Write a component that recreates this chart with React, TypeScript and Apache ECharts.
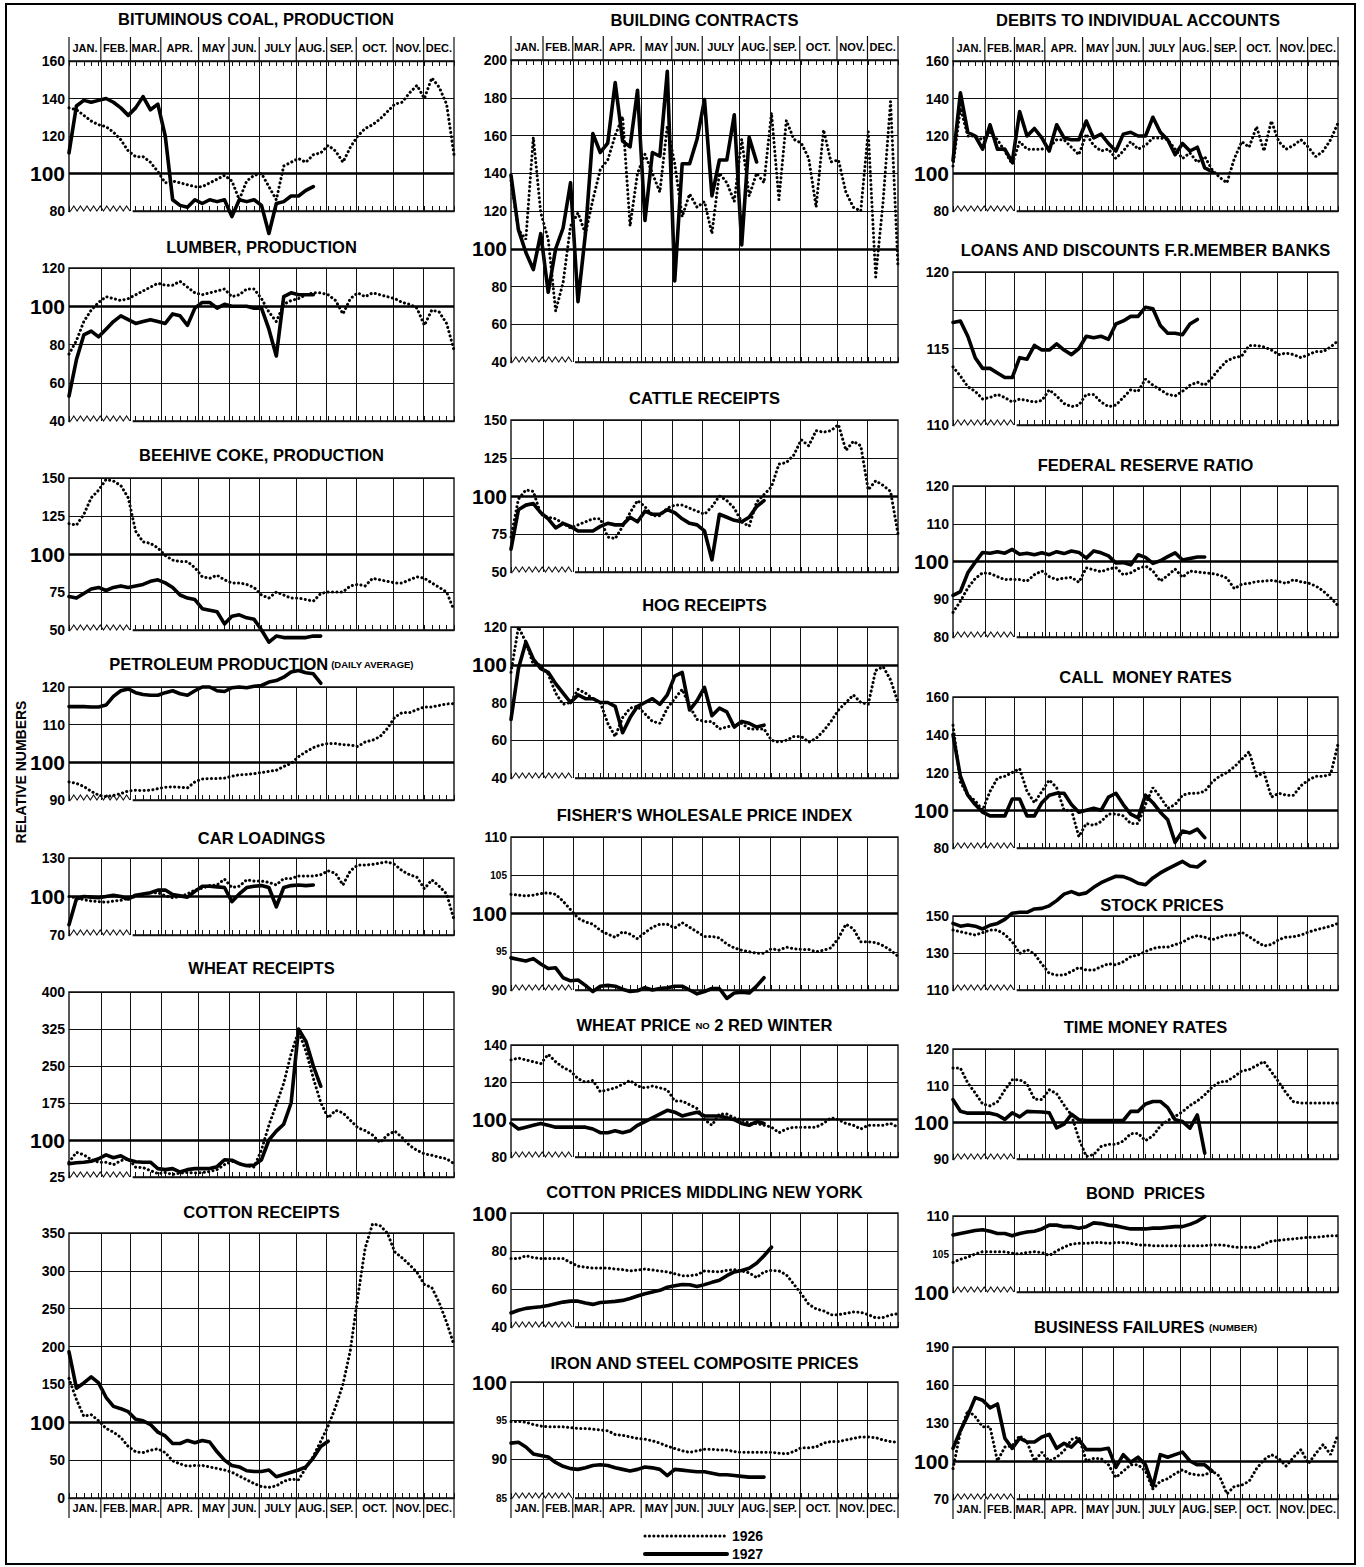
import React, { useEffect, useRef } from 'react';
import * as echarts from 'echarts';

const MONTHS = ['JAN.', 'FEB.', 'MAR.', 'APR.', 'MAY', 'JUN.', 'JULY', 'AUG.', 'SEP.', 'OCT.', 'NOV.', 'DEC.'];
const MONTH_EDGES = [0, 4.3, 8.3, 12.4, 17.5, 21.6, 25.7, 30.7, 34.8, 38.8, 43.8, 47.9, 52];
const WEEKS = 52;
const LEGEND_LABELS = ['1926', '1927'];

const COAL_1926 = [135,134,131,128,126,125,122,118,112,109,109,106,101,95,96,95,94,93,93,95,97,99,96,86,96,99,100,93,86,104,106,108,106,110,111,115,112,106,114,120,124,126,129,133,137,138,143,147,140,151,146,137,110];
const COAL_1927 = [111,136,139,138,139,140,138,135,131,135,141,134,137,120,86,83,82,86,84,86,85,86,77,86,85,86,83,68,84,85,88,88,91,93];
const LUMBER_1926 = [75,82,92,98,102,105,104,103,104,106,108,110,112,111,111,113,110,107,106,107,108,109,105,106,109,109,104,97,92,101,103,104,106,107,107,106,103,96,104,107,105,107,106,105,104,102,101,99,90,98,97,91,77];
const LUMBER_1927 = [53,72,85,87,84,88,92,95,93,91,92,93,92,91,96,95,90,99,102,102,99,101,100,100,100,99,99,88,74,105,107,106,106,106];
const COKE_1926 = [120,119,126,137,142,149,148,145,137,115,108,107,104,99,96,95,95,91,85,84,86,83,81,81,80,78,73,71,75,73,71,71,70,69,74,75,75,75,79,80,79,84,83,82,81,81,83,85,84,81,78,75,63];
const COKE_1927 = [72,71,74,77,78,76,78,79,78,79,80,82,83,81,78,73,71,70,64,63,62,54,59,60,58,57,50,42,46,45,45,45,45,46,46];
const PETROL_1926 = [94.8,94.4,93.6,92.3,91.3,90.9,91.2,91.7,92.4,92.6,92.5,92.6,93.0,93.4,93.5,93.4,93.2,94.8,95.6,95.7,95.7,95.8,96.3,96.7,96.8,97.0,97.3,97.6,97.9,98.9,99.7,101.5,102.8,103.9,104.6,105.0,105.0,104.7,104.6,104.2,105.4,105.9,106.8,109.0,112.0,113.2,113.2,114.0,114.7,114.7,115.1,115.5,115.6];
const PETROL_1927 = [114.8,114.8,114.8,114.7,114.7,115.2,117.5,119,119.5,118.5,118,117.8,117.8,118.5,119,118.2,117.8,119,120,120,119,118.8,119.8,120,119.8,120.2,120.4,121.3,121.7,122.6,124,124.4,123.8,123.5,121];
const CARS_1926 = [100,99,97.5,96.5,96,95.5,96.5,97,98.5,100,101.5,103,103,100.5,99,100,102,105,106.5,108.5,109,113.5,107,108,113,112,112,111,109,114,114,116,116,116,117,120,118,109,120,124.5,124.5,125,126,127,125,120,117,115,106,113,108,102,82];
const CARS_1927 = [78,98,100,99.5,99,100,101,100,98,101,102,103,105,105,101.5,100.5,99.5,104,108,108,107.5,107,96,102,107,108,108.5,107,92,107,108.5,109,108.5,109];
const WHEATR_1926 = [55,75,70,60,55,55,50,58,62,45,44,38,32,34,30,33,34,33,34,36,40,50,57,52,48,45,80,130,172,215,275,320,280,225,176,145,160,155,140,125,119,110,95,110,118,105,89,79,72,69,65,62,52];
const WHEATR_1927 = [52,54,55,57,62,70,64,68,60,56,55,55,42,40,42,35,40,42,42,42,46,60,59,52,48,49,60,100,118,132,175,325,300,250,209];
const COTTONR_1926 = [158,130,108,110,102,92,87,80,68,61,60,63,65,60,49,45,42,43,43,41,39,37,34,29,24,19,15,14,16,22,25,24,40,55,75,95,120,150,195,265,330,362,360,350,325,317,308,298,282,278,258,232,202];
const COTTONR_1927 = [193,145,152,160,152,133,121,118,114,104,102,97,87,82,72,72,76,73,76,74,61,50,43,41,36,35,35,37,28,31,34,37,41,53,68,75];

const BUILD_1926 = [136,110,105,159,119,105,67,82,112,119,108,126,142,147,160,170,112,140,150,140,130,165,145,117,129,122,125,108,140,135,125,158,128,140,135,172,126,168,158,156,148,122,163,146,147,130,122,120,162,85,125,178,90];
const BUILD_1927 = [139,110,98,89,108,77,100,111,135,72,108,161,151,156,188,157,154,184,115,151,149,194,83,145,145,158,179,128,147,147,171,102,159,146];
const CATTLE_1926 = [73,98,104,103,88,86,85,82,79,81,83,85,85,73,72,80,89,97,93,87,87,92,94,94,92,90,88,93,100,97,92,83,80,96,101,106,121,122,127,137,133,143,142,143,147,130,136,133,104,110,107,103,75];
const CATTLE_1927 = [65,91,94,95,89,85,79,82,80,77,77,77,80,82,81,81,86,83,90,88,88,91,89,85,82,81,77,58,88,86,84,83,86,93,97];
const HOG_1926 = [96,120,112,100,100,95,85,79,80,87,85,82,80,69,62,72,77,78,74,70,69,77,82,87,78,71,70,70,66,67,68,69,66,66,66,60,59,60,62,62,59,61,65,70,76,80,84,80,79,97,99,92,80];
const HOG_1927 = [71,98,112,103,98,96,90,85,80,84,82,82,80,80,78,64,72,78,80,82,79,84,94,96,76,81,88,73,77,75,67,70,69,67,68];
const FISHER_1926 = [102.5,102.4,102.3,102.4,102.6,102.7,102.5,101.6,100.5,99.4,98.9,98.6,97.8,97.3,96.9,97.6,97.3,96.7,97.5,98.2,98.6,98.6,98.1,98.8,98.2,97.6,97.0,97.0,96.8,96.0,95.5,95.2,95.0,94.8,94.8,95.4,95.2,95.6,95.4,95.3,95.3,95.0,95.2,95.5,96.8,98.6,98.0,96.3,96.3,96.2,95.8,95.2,94.4];
const FISHER_1927 = [94.2,94.0,93.8,94.1,93.4,92.8,92.9,91.6,91.2,91.3,90.6,89.8,90.5,90.6,90.5,90.1,89.8,89.9,90.3,90.0,90.2,90.3,90.5,90.5,90.0,89.5,89.8,90.2,90.2,88.9,89.6,89.7,89.6,90.5,91.6];
const WHEATP_1926 = [132,133,132,131,130,135,131,128,126,122,120,121,115,116,117,119,121,118,117,118,117,116,110,110,108,106,100,97,103,103,101,100,98,98,97,96,93,95,96,96,96,96,98,101,100,98,97,95,97,97,97,98,96];
const WHEATP_1927 = [98,95,96,97,98,97,96,96,96,96,96,95,93,93,94,93,94,97,99,101,103,105,104,102,103,104,102,102,102,101,100,98,97,99,98];
const COTTONP_1926 = [76,76,77.5,76.5,76,76,76,76,74,72,71.5,71,71,71,70.5,70.2,69.5,70,70.5,70,69.5,69,68,67,67,67.5,69.5,69.2,69,69.8,70.2,69.5,68.5,66,69,69.8,69.5,67.5,62.5,57.5,52,49.5,48.5,46.5,46.5,47.2,47.9,47.7,46.5,44.8,45,46.3,47];
const COTTONP_1927 = [47.4,48.8,49.8,50.3,50.7,51.3,52.2,53.1,53.6,53.6,52.6,51.9,52.9,53.2,53.5,54,55,56.3,57.5,58.4,59.3,60.9,61.7,62.4,62.2,61.3,62.3,63.5,64.6,67,69,69.7,70.9,73.5,77.5,82];
const IRON_1926 = [94.9,94.9,94.8,94.5,94.3,94.2,94.2,94.2,94.1,94.0,94.0,93.9,93.8,93.7,93.2,93.1,92.9,92.7,92.6,92.4,92.1,91.7,91.4,91.1,90.9,91.1,91.3,91.3,91.2,91.2,91.0,90.9,90.9,90.9,90.9,90.9,90.8,90.7,91.0,91.5,91.5,91.6,92.1,92.3,92.3,92.5,92.7,92.9,92.9,92.8,92.5,92.3,92.2];
const IRON_1927 = [92.1,92.2,91.6,90.7,90.5,90.3,89.6,89.1,88.8,88.7,88.9,89.2,89.3,89.2,88.9,88.7,88.5,88.7,89.0,88.9,88.7,87.9,88.7,88.6,88.5,88.4,88.4,88.2,88.0,88.0,87.9,87.8,87.7,87.7,87.7];

const DEBITS_1926 = [104,135,120,120,118,122,118,112,105,117,113,113,113,114,118,118,114,110,121,115,112,113,108,112,117,113,115,119,119,118,113,108,111,106,109,102,98,95,108,117,114,125,112,128,117,113,115,118,114,109,112,118,127];
const DEBITS_1927 = [107,143,122,120,113,126,113,113,106,133,120,124,119,112,126,119,118,118,128,119,121,116,112,121,122,120,120,130,122,118,110,116,112,114,103,101];
const LOANS_1926 = [113.8,113.2,112.5,112.2,111.7,111.8,112.0,111.8,111.5,111.7,111.6,111.5,111.6,112.3,111.9,111.4,111.2,111.3,112.0,112.0,111.5,111.2,111.3,111.8,112.3,112.2,113.0,112.6,112.3,112.0,111.9,112.2,112.6,112.8,112.6,113.1,113.7,114.2,114.4,114.5,115.2,115.2,115.1,114.9,114.6,114.7,114.6,114.4,114.6,114.8,114.8,115.1,115.5];
const LOANS_1927 = [116.7,116.8,115.8,114.4,113.7,113.7,113.4,113.1,113.1,114.4,114.3,115.2,114.9,114.9,115.3,114.9,114.6,115.0,115.8,115.7,115.8,115.6,116.6,116.8,117.1,117.1,117.7,117.6,116.5,116.0,116.0,115.9,116.6,116.9];
const FRR_1926 = [86.5,89.5,93,95.5,97,96.8,96,95.2,95.3,95.2,94.8,96.5,97.5,96,95.2,95.6,95.8,94.5,98.3,97.8,97.3,98,98.4,96.5,97,98.1,98.8,97.5,94.8,96.3,98,95.8,97.5,97.2,97,96.8,96.4,95.6,92.8,94,94.2,94.7,94.8,95,94.7,94.2,95.2,94.6,94.3,93.5,92.2,90.4,88.3];
const FRR_1927 = [91,92,97,99.8,102.4,102.2,102.6,102.2,103.2,101.9,102.2,101.8,102.3,101.8,102.6,102.1,102.8,102.4,100.9,102.8,102.3,101.5,99.6,99.7,99.1,101.8,101.1,99.5,100.2,101.3,102.3,100.4,100.8,101.2,101.2];
const CALL_1926 = [145,115,108,105,100,110,117,118,120,122,110,104,110,116,112,100,100,86,93,92,94,98,98,97,93,93,103,112,107,101,103,108,109,109,110,115,118,120,123,127,131,118,120,107,109,108,108,113,116,118,118,119,135];
const CALL_1927 = [140,118,108,103,99,97,97,97,106,106,97,97,104,108,109,109,103,99,100,101,100,107,109,103,98,96,108,104,99,95,83,89,88,90,85.5];
const STOCK_1926 = [142.4,141.5,140.6,139.7,141,142.4,142.4,140,136.1,129.8,131.8,129.5,124,119,118.1,118.1,120,122.2,120.8,120.8,122.6,124.2,123.5,125.3,128,129,130.8,132.5,133.2,133.2,134.5,135.8,138.2,139.4,138.5,137.2,138.5,139.7,139.7,141.2,138.8,136.2,133.8,134.6,137.2,138.6,138.8,139.7,141.3,142.5,143.5,144.5,146];
const STOCK_1927 = [146,144.5,145.1,144.5,143,145,146,148.2,151.5,152,152,153.8,154.1,155.5,158.3,161.8,163.2,161.6,162.5,165.5,168,169.8,171.5,171.3,169.8,167.7,166.9,170.6,173.3,175.5,177.5,179.5,177,176.5,179.5];
const TIME_1926 = [114.8,114.8,110.7,108,105,104.5,105.6,108.8,111.6,111.6,110.5,106.3,106.2,108.9,107.8,104.7,102,95.5,90.7,91.2,93.4,94,94,94.9,96.9,97,95,96.3,99,100.5,101.6,102.9,104.6,105.8,107.5,109.6,111,111.2,112.5,114,114.4,115.5,116.6,113.8,111,108,105.6,105.3,105.3,105.3,105.3,105.3,105.3];
const TIME_1927 = [106.2,103,102.5,102.5,102.5,102.5,102,100.8,102.6,101.5,103,102.9,102.8,102.6,98.5,99.5,102.2,100.7,100.5,100.5,100.5,100.5,100.5,100.5,103,103,105,105.7,105.7,104,100.7,100.2,98.4,102,91.6];
const BOND_1926 = [103.9,104.3,104.6,105.0,105.3,105.3,105.3,105.3,105.1,105.0,105.2,105.3,105.2,104.8,105.4,105.9,106.3,106.4,106.4,106.5,106.5,106.4,106.5,106.5,106.4,106.2,106.2,106.1,106.1,106.1,106.1,106.1,106.1,106.1,106.1,106.2,106.2,106.1,105.9,105.9,105.9,105.8,106.3,106.7,106.8,106.9,107.0,107.1,107.2,107.2,107.3,107.4,107.4];
const BOND_1927 = [107.5,107.7,107.9,108.1,108.2,108.0,107.7,107.7,107.4,107.7,107.9,108.0,108.3,108.8,108.8,108.6,108.6,108.4,108.6,109.1,109.0,108.8,108.7,108.5,108.3,108.3,108.3,108.4,108.4,108.5,108.6,108.6,108.9,109.3,109.9];
const FAIL_1926 = [94,123,140,135,127,127,100,111,112,120,115,100,107,100,103,108,117,119,100,102,102,97,87,92,97,97,92,78,84,86,90,93,90,89,89,92,88,74,80,81,84,94,101,105,102,96,103,109,98,106,113,105,121];
const FAIL_1927 = [110,124,136,150,148,142,145,118,110,118,115,115,119,121,110,114,111,117,109,109,109,110,95,105,99,103,97,80,105,103,105,107,100,97,97,92];

const FONT = '"Liberation Sans", Arial, Helvetica, sans-serif';
const INK = '#111';

const COLS = [
  { left: 69, right: 454 },
  { left: 511, right: 898 },
  { left: 953, right: 1338 },
];

type Panel = {
  title: string; col: number; top: number; bottom: number; titleY: number; titleX?: number;
  min: number; max: number; interval: number; small?: number[]; hide?: number[];
  months?: 'top' | 'bottom'; zig?: boolean; d26: number[]; d27: number[];
};

const PANELS: Panel[] = [
  { title: '{a|BITUMINOUS COAL, PRODUCTION}', col: 0, top: 61, bottom: 211, titleY: 19, titleX: 256, min: 80, max: 160, interval: 20, months: 'top', zig: true, d26: COAL_1926, d27: COAL_1927 },
  { title: '{a|LUMBER, PRODUCTION}', col: 0, top: 268, bottom: 421, titleY: 247, min: 40, max: 120, interval: 20, zig: true, d26: LUMBER_1926, d27: LUMBER_1927 },
  { title: '{a|BEEHIVE COKE, PRODUCTION}', col: 0, top: 478, bottom: 630, titleY: 455, min: 50, max: 150, interval: 25, zig: true, d26: COKE_1926, d27: COKE_1927 },
  { title: '{a|PETROLEUM PRODUCTION}{b| (DAILY AVERAGE)}', col: 0, top: 687, bottom: 800, titleY: 664, min: 90, max: 120, interval: 10, zig: true, d26: PETROL_1926, d27: PETROL_1927 },
  { title: '{a|CAR LOADINGS}', col: 0, top: 858, bottom: 935, titleY: 838, min: 70, max: 130, interval: 30, zig: true, d26: CARS_1926, d27: CARS_1927 },
  { title: '{a|WHEAT RECEIPTS}', col: 0, top: 992, bottom: 1177, titleY: 968, min: 25, max: 400, interval: 75, zig: true, d26: WHEATR_1926, d27: WHEATR_1927 },
  { title: '{a|COTTON RECEIPTS}', col: 0, top: 1233, bottom: 1498, titleY: 1212, min: 0, max: 350, interval: 50, months: 'bottom', d26: COTTONR_1926, d27: COTTONR_1927 },

  { title: '{a|BUILDING CONTRACTS}', col: 1, top: 60, bottom: 362, titleY: 20, min: 40, max: 200, interval: 20, months: 'top', zig: true, d26: BUILD_1926, d27: BUILD_1927 },
  { title: '{a|CATTLE RECEIPTS}', col: 1, top: 420, bottom: 572, titleY: 398, min: 50, max: 150, interval: 25, zig: true, d26: CATTLE_1926, d27: CATTLE_1927 },
  { title: '{a|HOG RECEIPTS}', col: 1, top: 627, bottom: 778, titleY: 605, min: 40, max: 120, interval: 20, zig: true, d26: HOG_1926, d27: HOG_1927 },
  { title: "{a|FISHER'S WHOLESALE PRICE INDEX}", col: 1, top: 837, bottom: 990, titleY: 815, min: 90, max: 110, interval: 5, small: [95, 105], zig: true, d26: FISHER_1926, d27: FISHER_1927 },
  { title: '{a|WHEAT PRICE }{b|NO}{a| 2 RED WINTER}', col: 1, top: 1045, bottom: 1157, titleY: 1025, min: 80, max: 140, interval: 20, zig: true, d26: WHEATP_1926, d27: WHEATP_1927 },
  { title: '{a|COTTON PRICES MIDDLING NEW YORK}', col: 1, top: 1213, bottom: 1327, titleY: 1192, min: 40, max: 100, interval: 20, zig: true, d26: COTTONP_1926, d27: COTTONP_1927 },
  { title: '{a|IRON AND STEEL COMPOSITE PRICES}', col: 1, top: 1382, bottom: 1498, titleY: 1363, min: 85, max: 100, interval: 5, small: [85, 95], months: 'bottom', zig: true, d26: IRON_1926, d27: IRON_1927 },

  { title: '{a|DEBITS TO INDIVIDUAL ACCOUNTS}', col: 2, top: 61, bottom: 211, titleY: 20, titleX: 1138, min: 80, max: 160, interval: 20, months: 'top', zig: true, d26: DEBITS_1926, d27: DEBITS_1927 },
  { title: '{a|LOANS AND DISCOUNTS F.R.MEMBER BANKS}', col: 2, top: 272, bottom: 425, titleY: 250, min: 110, max: 120, interval: 2.5, hide: [112.5, 117.5], zig: true, d26: LOANS_1926, d27: LOANS_1927 },
  { title: '{a|FEDERAL RESERVE RATIO}', col: 2, top: 486, bottom: 637, titleY: 465, min: 80, max: 120, interval: 10, zig: true, d26: FRR_1926, d27: FRR_1927 },
  { title: '{a|CALL  MONEY RATES}', col: 2, top: 697, bottom: 848, titleY: 677, min: 80, max: 160, interval: 20, zig: true, d26: CALL_1926, d27: CALL_1927 },
  { title: '{a|STOCK PRICES}', col: 2, top: 916, bottom: 990, titleY: 905, titleX: 1162, min: 110, max: 150, interval: 20, zig: true, d26: STOCK_1926, d27: STOCK_1927 },
  { title: '{a|TIME MONEY RATES}', col: 2, top: 1049, bottom: 1159, titleY: 1027, min: 90, max: 120, interval: 10, zig: true, d26: TIME_1926, d27: TIME_1927 },
  { title: '{a|BOND  PRICES}', col: 2, top: 1216, bottom: 1292, titleY: 1193, min: 100, max: 110, interval: 5, small: [105], zig: true, d26: BOND_1926, d27: BOND_1927 },
  { title: '{a|BUSINESS FAILURES }{b|(NUMBER)}', col: 2, top: 1347, bottom: 1499, titleY: 1327, min: 70, max: 190, interval: 30, months: 'bottom', zig: true, d26: FAIL_1926, d27: FAIL_1927 },
];

const DOTTED = { color: '#000', width: 3, type: [0.1, 4.3], cap: 'round' };
const SOLID = { color: '#000', width: 3.6, type: 'solid', cap: 'round', join: 'round' };

function txt(x: number, y: number, text: string, size: number, extra: any = {}) {
  return {
    type: 'text', x, y, z: 20,
    style: {
      text, fill: '#000', fontSize: size, fontWeight: 'bold', fontFamily: FONT,
      align: 'center', verticalAlign: 'middle', textAlign: 'center', textVerticalAlign: 'middle',
      ...extra,
    },
  };
}

function buildOption() {
  const grid: any[] = [];
  const xAxis: any[] = [];
  const yAxis: any[] = [];
  const series: any[] = [];
  const graphic: any[] = [];

  PANELS.forEach((p, i) => {
    const c = COLS[p.col];
    const w = c.right - c.left;
    const h = p.bottom - p.top;
    const px = (wk: number) => c.left + (wk / WEEKS) * w;

    grid.push({ left: c.left, top: p.top, width: w, height: h, show: true, borderColor: INK, borderWidth: 1.4, backgroundColor: 'transparent' });

    const baseX = {
      type: 'value', gridIndex: i, min: 0, max: WEEKS, interval: 1,
      axisLabel: { show: false }, splitLine: { show: false },
      axisLine: { show: true, lineStyle: { color: INK, width: 1.4 } },
      axisTick: { show: true, inside: true, length: 5, lineStyle: { color: INK, width: 1 } },
    };
    const xi = xAxis.length;
    xAxis.push({ ...baseX, position: 'bottom' });
    if (p.months === 'top') xAxis.push({ ...baseX, position: 'top' });

    yAxis.push({
      type: 'value', gridIndex: i, min: p.min, max: p.max, interval: p.interval,
      axisLine: { show: false }, axisTick: { show: false },
      splitLine: { show: true, lineStyle: { color: INK, width: 1.1 } },
      axisLabel: {
        margin: 4,
        formatter: (v: number) => {
          if (p.hide && p.hide.includes(v)) return '';
          if (v === 100) return '{big|100}';
          if (p.small && p.small.includes(v)) return `{sm|${v}}`;
          return `{n|${v}}`;
        },
        rich: {
          big: { fontSize: 21, fontWeight: 'bold', fontFamily: FONT, color: '#000' },
          n: { fontSize: 14, fontWeight: 'bold', fontFamily: FONT, color: '#000' },
          sm: { fontSize: 10, fontWeight: 'bold', fontFamily: FONT, color: '#000' },
        },
      },
    });

    const markData: any[] = MONTH_EDGES.slice(1, -1).map((v) => ({ xAxis: v }));
    if (p.min < 100 && p.max > 100) markData.push({ yAxis: 100, lineStyle: { width: 2.6, color: '#000', type: 'solid' } });

    series.push({
      type: 'line', name: LEGEND_LABELS[0], xAxisIndex: xi, yAxisIndex: i,
      data: p.d26.map((v, k) => [k, v]), showSymbol: false, symbol: 'none', clip: false, z: 3,
      lineStyle: DOTTED,
      markLine: {
        silent: true, symbol: ['none', 'none'], label: { show: false }, animation: false,
        lineStyle: { type: 'solid', color: INK, width: 1 },
        data: markData,
      },
    });
    series.push({
      type: 'line', name: LEGEND_LABELS[1], xAxisIndex: xi, yAxisIndex: i,
      data: p.d27.map((v, k) => [k, v]), showSymbol: false, symbol: 'none', clip: false, z: 4,
      lineStyle: SOLID,
    });

    // title
    graphic.push({
      type: 'text', x: p.titleX ?? (c.left + c.right) / 2, y: p.titleY, z: 20,
      style: {
        text: p.title, align: 'center', verticalAlign: 'middle', textAlign: 'center', textVerticalAlign: 'middle',
        rich: {
          a: { fontSize: 16.5, fontWeight: 'bold', fontFamily: FONT, fill: '#000', color: '#000' },
          b: { fontSize: 9.5, fontWeight: 'bold', fontFamily: FONT, fill: '#000', color: '#000' },
        },
      },
    });

    // month label rows
    if (p.months) {
      const y0 = p.months === 'top' ? p.top - 24 : p.bottom;
      const y1 = p.months === 'top' ? p.top : p.bottom + 20;
      const ly = p.months === 'top' ? p.top - 13 : p.bottom + 10;
      MONTH_EDGES.forEach((e) => {
        graphic.push({ type: 'line', z: 5, shape: { x1: px(e), y1: y0, x2: px(e), y2: y1 }, style: { stroke: INK, lineWidth: 1.2 } });
      });
      MONTHS.forEach((m, k) => {
        graphic.push(txt(px((MONTH_EDGES[k] + MONTH_EDGES[k + 1]) / 2), ly, m, 11));
      });
    }

    // axis break zigzag
    if (p.zig) {
      const x0 = c.left + 1.5;
      const x1 = px(8.6);
      graphic.push({ type: 'rect', z: 1, shape: { x: x0, y: p.bottom - 6.5, width: x1 - x0, height: 8.5 }, style: { fill: '#fff' } });
      const pts: number[][] = [];
      let k = 0;
      for (let x = x0; x <= x1; x += 3.3, k++) pts.push([x, p.bottom - (k % 2 === 0 ? 0 : 5)]);
      graphic.push({ type: 'polyline', z: 2, shape: { points: pts }, style: { stroke: INK, lineWidth: 1.1, fill: 'none' } });
    }
  });

  // y-axis caption
  graphic.push({
    type: 'text', x: 21, y: 772, rotation: Math.PI / 2, z: 20,
    style: { text: 'RELATIVE NUMBERS', fill: '#000', fontSize: 14, fontWeight: 'bold', fontFamily: FONT, align: 'center', verticalAlign: 'middle', textAlign: 'center', textVerticalAlign: 'middle' },
  });

  // legend
  graphic.push({ type: 'line', z: 20, shape: { x1: 645, y1: 1536, x2: 727, y2: 1536 }, style: { stroke: '#000', lineWidth: 3, lineDash: [0.1, 4.3], lineCap: 'round' } });
  graphic.push(txt(732, 1536, LEGEND_LABELS[0], 14, { align: 'left', textAlign: 'left' }));
  graphic.push({ type: 'line', z: 20, shape: { x1: 645, y1: 1554, x2: 727, y2: 1554 }, style: { stroke: '#000', lineWidth: 4, lineCap: 'round' } });
  graphic.push(txt(732, 1554, LEGEND_LABELS[1], 14, { align: 'left', textAlign: 'left' }));

  // outer frame
  graphic.push({ type: 'rect', z: 20, shape: { x: 6, y: 4, width: 1349, height: 1560 }, style: { fill: 'none', stroke: '#000', lineWidth: 2 } });

  return {
    animation: false,
    backgroundColor: '#fff',
    grid, xAxis, yAxis, series, graphic,
  };
}

export default function App() {
  const ref = useRef<HTMLDivElement>(null);
  useEffect(() => {
    const el = ref.current;
    if (!el) return;
    const chart = echarts.init(el, null, { renderer: 'svg' });
    chart.setOption(buildOption() as any);
    return () => chart.dispose();
  }, []);
  return <div ref={ref} style={{ position: 'absolute', left: 0, top: 0, width: 1364, height: 1567, background: '#fff' }} />;
}
